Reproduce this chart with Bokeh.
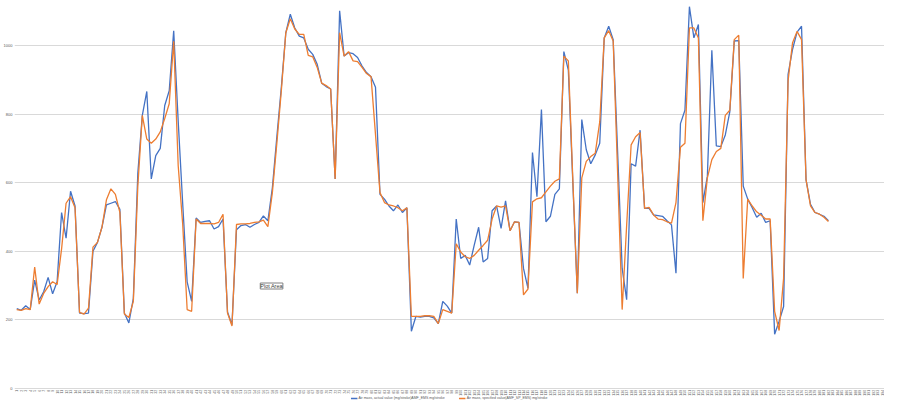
import math
from bokeh.plotting import figure
from bokeh.models import FactorRange, Range1d, FixedTicker, Legend, LegendItem, Label
from bokeh.core.properties import value
from bokeh.embed import file_html
from bokeh.resources import INLINE

categories = [str(i) for i in range(1, 195)]

actual = [233, 228, 241, 230, 316, 258, 282, 324, 276, 311,
          513, 438, 575, 532, 220, 218, 220, 400, 426, 470,
          535, 540, 545, 522, 220, 191, 263, 628, 796, 866,
          611, 679, 700, 825, 868, 1043, 780, 540, 311, 254,
          497, 484, 487, 489, 465, 472, 494, 223, 186, 463,
          475, 478, 470, 478, 484, 503, 489, 585, 734, 878,
          1037, 1091, 1051, 1027, 1022, 989, 974, 945, 890, 880,
          873, 611, 1101, 969, 979, 976, 965, 940, 921, 909,
          878, 566, 552, 532, 518, 535, 513, 527, 167, 210,
          208, 210, 210, 206, 189, 254, 240, 220, 494, 379,
          388, 360, 417, 470, 369, 379, 518, 532, 467, 547,
          460, 486, 484, 350, 292, 688, 559, 813, 486, 502,
          566, 582, 982, 928, 600, 278, 784, 696, 655, 681,
          715, 1022, 1056, 1017, 686, 350, 259, 655, 648, 753,
          525, 525, 506, 504, 502, 489, 477, 336, 772, 811,
          1113, 1022, 1061, 542, 619, 986, 707, 705, 739, 806,
          1013, 1014, 590, 552, 527, 499, 511, 484, 489, 158,
          196, 239, 916, 989, 1039, 1056, 609, 537, 513, 508,
          502, 489]

specified = [230, 228, 233, 230, 354, 246, 277, 297, 311, 303,
             407, 540, 559, 527, 222, 217, 234, 412, 426, 470,
             550, 582, 566, 513, 217, 207, 254, 590, 796, 727,
             715, 727, 748, 787, 830, 1012, 650, 480, 230, 225,
             494, 481, 481, 481, 480, 484, 508, 220, 182, 478,
             480, 480, 481, 484, 486, 491, 472, 571, 715, 868,
             1037, 1078, 1048, 1032, 1032, 971, 967, 936, 890, 883,
             873, 611, 1037, 969, 982, 955, 953, 936, 918, 909,
             740, 571, 542, 535, 532, 527, 518, 527, 210, 210,
             210, 212, 212, 210, 189, 230, 225, 220, 422, 398,
             384, 379, 388, 403, 417, 432, 494, 532, 529, 532,
             460, 486, 484, 273, 290, 544, 553, 556, 573, 590,
             604, 611, 969, 955, 609, 278, 614, 662, 676, 686,
             777, 1022, 1043, 1013, 624, 230, 475, 710, 734, 746,
             525, 528, 506, 494, 492, 486, 482, 542, 703, 715,
             1051, 1051, 1022, 489, 614, 667, 691, 700, 796, 811,
             1017, 1030, 321, 552, 532, 515, 505, 494, 494, 225,
             169, 321, 897, 1008, 1041, 1017, 609, 532, 513, 508,
             499, 487]

y_ticks = [0, 200, 400, 600, 800, 1000]
series_names = ["Air mass, actual value (mg/stroke)AMF_EMS mg/stroke",
                "Air mass, specified value(AMF_SP_EMS) mg/stroke"]

FONT = "Liberation Sans"
TXT = "#595959"
GRID = "#d9d9d9"

p = figure(width=884, height=400,
           x_range=FactorRange(factors=categories),
           y_range=Range1d(-35, 1131),
           output_backend="svg", toolbar_location=None,
           min_border_left=0, min_border_right=0,
           min_border_top=0, min_border_bottom=0)
p.outline_line_color = None
p.background_fill_color = "white"
p.border_fill_color = "white"

xs = categories[:len(actual)]
r1 = p.line(x=xs, y=actual, line_color="#4472C4", line_width=1.3)
r2 = p.line(x=xs, y=specified, line_color="#ED7D31", line_width=1.3)

# category tick labels (vertical), drawn just below the category axis line
p.text(x=categories, y=[-4] * len(categories), text=categories,
       angle=math.pi / 2, text_align="right", text_baseline="middle",
       text_font=value(FONT), text_font_size="3.5px", text_color=TXT)

p.xaxis.visible = False
p.xgrid.grid_line_color = None
p.ygrid.grid_line_color = GRID
p.ygrid.grid_line_width = 1

p.yaxis.ticker = FixedTicker(ticks=y_ticks)
p.yaxis.axis_line_color = None
p.yaxis.major_tick_line_color = None
p.yaxis.minor_tick_line_color = None
p.yaxis.major_tick_out = 0
p.yaxis.major_tick_in = 0
p.yaxis.minor_tick_out = 0
p.yaxis.major_label_text_font_size = "4px"
p.yaxis.major_label_text_color = TXT
p.yaxis.major_label_text_font = FONT
p.yaxis.major_label_standoff = 2

legend = Legend(items=[LegendItem(label=series_names[0], renderers=[r1]),
                       LegendItem(label=series_names[1], renderers=[r2])],
                orientation="horizontal", location="bottom_center",
                label_text_font_size="3.5px", label_text_color=TXT,
                label_text_font=FONT, glyph_width=7, glyph_height=4,
                label_height=4, label_standoff=1, spacing=14,
                padding=0, margin=0, border_line_color=None,
                background_fill_alpha=0)
p.add_layout(legend)

tip = Label(x=54.8, y=290, text="Plot Area", text_font=FONT,
            text_font_size="5.5px", text_color="#404040",
            background_fill_color="white", border_line_color="#808080")
p.add_layout(tip)

open("out.html", "w").write(file_html(p, INLINE))
